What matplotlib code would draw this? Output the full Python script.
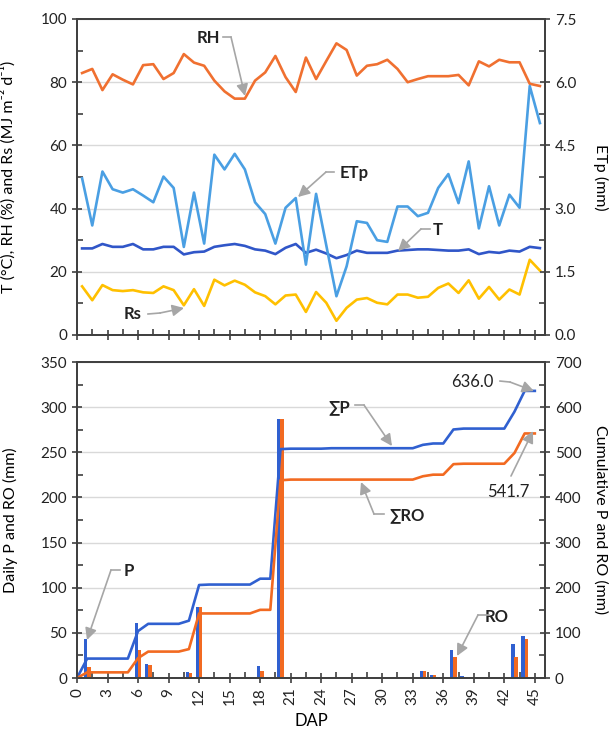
import numpy as np
import matplotlib
matplotlib.use("Agg")
import matplotlib.pyplot as plt
from matplotlib.ticker import FixedLocator, MultipleLocator, FormatStrFormatter

plt.rcParams['font.family'] = ['Lato', 'DejaVu Sans']

# ---- datos ----
days = np.arange(0, 46)

rh = [82.9, 84.2, 77.5, 82.5, 80.8, 79.3, 85.4, 85.7, 81.0, 82.9, 88.9, 86.2,
      85.2, 80.5, 77.1, 74.8, 74.8, 80.5, 83.1, 88.3, 81.6, 76.9, 87.8, 81.0,
      86.7, 92.3, 90.2, 82.1, 85.2, 85.7, 87.1, 84.2, 80.0, 81.0, 81.9, 81.9,
      81.9, 82.3, 79.0, 86.6, 85.0, 87.1, 86.3, 86.3, 79.5, 78.8]

etp = [3.72, 2.60, 3.88, 3.46, 3.38, 3.46, 3.31, 3.15, 3.76, 3.49, 2.09, 3.38,
       2.17, 4.28, 3.93, 4.30, 3.93, 3.15, 2.87, 2.17, 3.02, 3.25, 1.67, 3.35,
       2.13, 0.92, 1.63, 2.70, 2.66, 2.25, 2.21, 3.05, 3.05, 2.82, 2.90, 3.49,
       3.82, 3.13, 4.12, 2.53, 3.53, 2.60, 3.33, 3.02, 5.91, 5.03]

temp = [27.4, 27.4, 28.8, 27.9, 27.9, 28.8, 27.1, 27.1, 27.9, 27.9, 25.5, 26.2,
        26.4, 27.9, 28.4, 28.8, 28.2, 27.1, 26.7, 25.6, 27.6, 28.8, 26.0, 27.0,
        25.8, 24.3, 25.3, 26.7, 26.0, 26.0, 26.0, 26.7, 26.9, 27.1, 27.1, 26.9,
        26.7, 26.7, 27.1, 25.6, 26.3, 26.0, 26.7, 26.4, 27.9, 27.5]

rs = [15.4, 11.0, 15.8, 14.2, 13.9, 14.2, 13.5, 13.3, 15.4, 14.2, 9.4, 14.5,
      9.2, 17.5, 15.7, 17.2, 15.9, 13.5, 12.3, 9.7, 12.5, 12.8, 7.3, 13.6,
      10.2, 4.5, 8.6, 11.2, 11.7, 10.2, 9.7, 12.8, 12.8, 11.8, 12.1, 14.9,
      16.3, 13.3, 17.3, 11.5, 15.2, 11.2, 14.4, 12.8, 23.8, 20.4]

p_daily = [0, 43, 0, 0, 0, 0, 61, 16, 0, 0, 0, 7, 79, 1, 0, 0, 0, 0, 13, 0,
           287, 1, 0, 0, 0, 1, 0, 0, 0, 0, 0, 0, 0, 0, 7.5, 3, 0, 31, 2, 0,
           0, 0, 0, 37.5, 46, 0]

ro_daily = [0, 12.5, 0, 0, 0, 0, 31.5, 14.5, 0, 0, 0, 5.5, 79, 0, 0, 0, 0, 0, 8, 0,
            287, 1.5, 0, 0, 0, 0, 0, 0, 0, 0, 0, 0, 0, 0, 7.4, 3.5, 0, 23.3, 1, 0,
            0, 0, 0, 23.8, 43.2, 0]

cum_p = np.cumsum(p_daily)
cum_ro = np.cumsum(ro_daily)

# ---- estilo ----
C_RH = '#F07030'
C_ETP = '#4A9FE3'
C_T = '#3056C8'
C_RS = '#FFC000'
C_P = '#3060D0'
C_RO = '#F26A21'
SPINE = '#404040'
GRID = '#D9D9D9'
ARROW = '#A6A6A6'
FS = 11


def style_axes(ax):
    for s in ax.spines.values():
        s.set_color(SPINE)
        s.set_linewidth(1.3)
    ax.tick_params(which='major', direction='inout', length=7, width=1.2, color=SPINE,
                   labelsize=FS, labelcolor='#222222')
    ax.tick_params(which='minor', direction='in', length=4, width=1.2, color=SPINE)


def callout(ax, text, txt_xy, elbow_a, elbow_b, tip, bold=True, ha='center'):
    ax.text(*txt_xy, text, ha=ha, va='center', fontsize=FS + 1,
            fontweight='bold' if bold else 'normal', color='#222222', zorder=10)
    ax.plot([elbow_a[0], elbow_b[0]], [elbow_a[1], elbow_b[1]], color=ARROW, lw=1.2,
            zorder=10, clip_on=False)
    ax.annotate('', xy=tip, xytext=elbow_b,
                arrowprops=dict(arrowstyle='-|>,head_length=0.7,head_width=0.35',
                                color=ARROW, lw=1.2, shrinkA=0, shrinkB=0), zorder=10)


fig = plt.figure(figsize=(6.12, 7.36), dpi=100)

# ================= panel superior =================
ax1 = fig.add_axes([77 / 612, 1 - 335 / 736, 468 / 612, 316 / 736])
ax1b = ax1.twinx()
ax1.plot(days, rh, color=C_RH, lw=1.9)
ax1.plot(days, temp, color=C_T, lw=1.9)
ax1.plot(days, rs, color=C_RS, lw=1.9)
ax1b.plot(days, etp, color=C_ETP, lw=1.9)

ax1.set_xlim(-0.5, 45.5)
ax1.set_ylim(0, 100)
ax1b.set_ylim(0, 7.5)
for a in (ax1, ax1b):
    style_axes(a)
ax1.xaxis.set_major_locator(FixedLocator(np.arange(-0.5, 46, 3)))
ax1.xaxis.set_minor_locator(FixedLocator(np.arange(1, 46, 3)))
ax1.tick_params(axis='x', labelbottom=False)
ax1.yaxis.set_major_locator(MultipleLocator(20))
ax1.yaxis.set_minor_locator(MultipleLocator(10))
ax1b.yaxis.set_major_locator(MultipleLocator(1.5))
ax1b.yaxis.set_minor_locator(MultipleLocator(0.75))
ax1b.yaxis.set_major_formatter(FormatStrFormatter('%.1f'))
ax1.grid(axis='y', which='major', color=GRID, lw=1)
ax1.set_axisbelow(True)

ax1.set_ylabel('T (°C), RH (%) and Rs (MJ m\u207b\u00b2 d\u207b\u00b9)', fontsize=FS + 0.5)
ax1.yaxis.set_label_coords(-0.13, 0.5)
ax1b.set_ylabel('ETp (mm)', fontsize=FS + 0.5, rotation=270, va='center')
ax1b.yaxis.set_label_coords(1.118, 0.5)


def top_x(px):
    return -0.5 + (px - 77) / 10.174


def top_y(py):
    return (335 - py) / 3.16


callout(ax1, 'RH', (top_x(208), top_y(38)), (top_x(223), top_y(37)), (top_x(231), top_y(37)),
        (top_x(245), top_y(96)))
callout(ax1b, 'ETp', (top_x(354), top_y(173) * 0.075), (top_x(334), top_y(172) * 0.075),
        (top_x(326), top_y(172) * 0.075), (top_x(298), top_y(197) * 0.075))
callout(ax1, 'T', (top_x(438), top_y(230)), (top_x(430), top_y(229)), (top_x(421), top_y(229)),
        (top_x(398), top_y(251)))
callout(ax1, 'Rs', (top_x(133), top_y(314)), (top_x(148), top_y(314)), (top_x(160), top_y(313)),
        (top_x(184), top_y(308)))

# ================= panel inferior =================
ax2 = fig.add_axes([77 / 612, 1 - 678 / 736, 468 / 612, 316 / 736])
ax2b = ax2.twinx()
ax2.bar(days - 0.165, p_daily, width=0.34, color=C_P, zorder=2)
ax2.bar(days + 0.165, ro_daily, width=0.34, color=C_RO, zorder=2)
ax2b.plot(days, cum_p, color=C_P, lw=1.9)
ax2b.plot(days, cum_ro, color=C_RO, lw=1.9)

ax2.set_xlim(0, 46)
ax2.set_ylim(0, 350)
ax2b.set_ylim(0, 700)
for a in (ax2, ax2b):
    style_axes(a)
ax2.xaxis.set_major_locator(FixedLocator(np.arange(0, 46, 3)))
ax2.xaxis.set_minor_locator(FixedLocator(np.arange(1.5, 46, 3)))
ax2.tick_params(axis='x', labelrotation=90)
ax2.yaxis.set_major_locator(MultipleLocator(50))
ax2.yaxis.set_minor_locator(MultipleLocator(25))
ax2b.yaxis.set_major_locator(MultipleLocator(100))
ax2b.yaxis.set_minor_locator(MultipleLocator(50))
ax2.grid(axis='y', which='major', color=GRID, lw=1, zorder=0)
ax2.set_axisbelow(True)

ax2.set_ylabel('Daily P and RO (mm)', fontsize=FS + 0.5)
ax2.yaxis.set_label_coords(-0.125, 0.5)
ax2b.set_ylabel('Cumulative P and RO (mm)', fontsize=FS + 0.5, rotation=270, va='center')
ax2b.yaxis.set_label_coords(1.118, 0.5)
ax2.set_xlabel('DAP', fontsize=FS + 1)
ax2.xaxis.set_label_coords(0.5, -0.112)


def bot_x(px):
    return (px - 77) / 10.174


def bot_y(py):
    return (678 - py) / 0.903 * 2


callout(ax2b, 'P', (bot_x(129), bot_y(571)), (bot_x(120), bot_y(570)), (bot_x(111), bot_y(570)),
        (bot_x(87), bot_y(640)))
callout(ax2b, '\u2211P', (bot_x(339), bot_y(407)), (bot_x(355), bot_y(405)), (bot_x(364), bot_y(405)),
        (bot_x(392), bot_y(446)))
callout(ax2b, '\u2211RO', (bot_x(407), bot_y(515)), (bot_x(384), bot_y(514)), (bot_x(374), bot_y(514)),
        (bot_x(361), bot_y(482)))
callout(ax2b, 'RO', (bot_x(497), bot_y(617)), (bot_x(489), bot_y(615)), (bot_x(478), bot_y(615)),
        (bot_x(457), bot_y(656)))
callout(ax2b, f'{cum_p[-1]:.1f}', (bot_x(472), bot_y(382)), (bot_x(500), bot_y(381)),
        (bot_x(510), bot_y(382)), (bot_x(534), bot_y(391)), bold=False)
callout(ax2b, f'{cum_ro[-1]:.1f}', (bot_x(508), bot_y(492)), (bot_x(511), bot_y(476)),
        (bot_x(511), bot_y(476)), (bot_x(533), bot_y(431)), bold=False)

fig.savefig('out.png', dpi=100)
